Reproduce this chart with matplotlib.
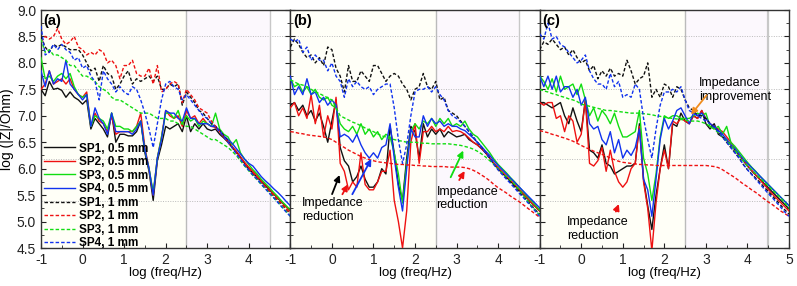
import numpy as np
import matplotlib
matplotlib.use("Agg")
import matplotlib.pyplot as plt
from matplotlib.ticker import MultipleLocator

plt.rcParams['font.family'] = ['Liberation Sans', 'DejaVu Sans']

# log(freq/Hz) sweep points
log_freq = np.round(np.arange(-1.0, 5.0001, 0.1), 2)

series_labels = ["SP1, 0.5 mm", "SP2, 0.5 mm", "SP3, 0.5 mm", "SP4, 0.5 mm",
                 "SP1, 1 mm", "SP2, 1 mm", "SP3, 1 mm", "SP4, 1 mm"]
panel_tags = ["(a)", "(b)", "(c)"]
x_ticks = [-1, 0, 1, 2, 3, 4, 5]
y_ticks = [4.5, 5.0, 5.5, 6.0, 6.5, 7.0, 7.5, 8.0, 8.5, 9.0]

# ---------------- panel (a) ----------------
a_sp1_05 = [7.5, 7.38, 7.65, 7.5, 7.52, 7.48, 7.35, 7.45, 7.35, 7.3,
            7.22, 7.3, 6.75, 6.95, 6.85, 6.75, 6.6, 7.05, 6.5, 6.65,
            6.65, 6.62, 6.62, 6.7, 6.9, 6.3, 5.95, 5.4, 6.15, 6.45,
            6.8, 6.75, 6.8, 6.85, 6.7, 7.0, 6.7, 6.85, 6.75, 6.85,
            6.75, 6.72, 6.75, 6.65, 6.58, 6.5, 6.4, 6.32, 6.22, 6.1,
            6.0, 5.92, 5.84, 5.76, 5.68, 5.6, 5.52, 5.44, 5.36, 5.28, 5.2]
a_sp2_05 = [7.5, 7.6, 7.85, 7.6, 7.65, 7.7, 7.6, 7.7, 7.5, 7.4,
            7.35, 7.45, 6.8, 7.05, 6.9, 6.85, 6.7, 7.0, 6.65, 6.7,
            6.7, 6.7, 6.7, 6.8, 7.05, 6.4, 6.0, 5.5, 6.2, 6.6,
            7.1, 7.0, 6.95, 7.0, 6.8, 7.1, 6.95, 7.0, 6.85, 6.95,
            6.85, 6.8, 6.78, 6.7, 6.6, 6.52, 6.42, 6.33, 6.22, 6.12,
            6.03, 5.95, 5.87, 5.78, 5.7, 5.62, 5.53, 5.45, 5.37, 5.28, 5.2]
a_sp3_05 = [8.1, 7.7, 7.75, 7.65, 7.75, 7.8, 7.7, 7.8, 7.55, 7.4,
            7.35, 7.4, 6.8, 7.0, 6.95, 6.9, 6.75, 7.05, 6.8, 6.8,
            6.75, 6.75, 6.7, 6.8, 6.9, 6.35, 6.0, 5.55, 6.2, 6.6,
            7.05, 7.05, 6.95, 7.1, 6.85, 7.0, 6.9, 6.95, 6.8, 6.9,
            6.85, 6.8, 7.05, 6.75, 6.65, 6.6, 6.45, 6.55, 6.3, 6.18,
            6.08, 5.98, 5.9, 5.8, 5.72, 5.64, 5.55, 5.47, 5.38, 5.3, 5.22]
a_sp4_05 = [7.85, 7.55, 7.85, 7.6, 7.7, 7.65, 8.05, 7.6, 7.5, 7.4,
            7.3, 7.4, 6.8, 7.15, 6.95, 6.85, 6.65, 7.05, 6.7, 6.7,
            6.7, 6.7, 6.65, 6.75, 6.9, 6.35, 6.0, 5.5, 6.2, 6.55,
            7.1, 7.05, 7.05, 6.95, 6.9, 7.15, 6.95, 6.95, 6.85, 6.85,
            6.85, 6.8, 6.8, 6.72, 6.62, 6.55, 6.48, 6.38, 6.28, 6.18,
            6.1, 6.05, 5.95, 5.85, 5.77, 5.7, 5.62, 5.55, 5.47, 5.38, 5.3]
a_sp1_1 = [8.5, 8.3, 8.2, 8.35, 8.3, 8.35, 8.3, 8.25, 8.25, 8.25,
           8.15, 8.0, 7.85, 7.9, 7.65, 7.95, 7.8, 7.75, 7.5, 7.6,
           7.75, 7.85, 7.6, 7.7, 7.65, 7.7, 7.75, 7.65, 7.75, 7.5,
           7.5, 7.6, 7.55, 7.6, 7.2, 7.45, 7.35, 7.25, 7.1, 7.05,
           6.95, 6.85, 6.8, 6.72, 6.62, 6.52, 6.4, 6.3, 6.2, 6.08,
           5.98, 5.9, 5.82, 5.74, 5.66, 5.57, 5.48, 5.4, 5.32, 5.23, 5.15]
a_sp2_1 = [8.4, 8.5, 8.45, 8.5, 8.65, 8.45, 8.35, 8.4, 8.5, 8.3,
           8.25, 8.15, 8.2, 8.15, 8.25, 8.2, 8.0, 8.05, 7.95, 7.7,
           7.95, 7.95, 8.05, 7.8, 7.75, 7.75, 7.9, 7.6, 7.95, 7.45,
           7.5, 7.6, 7.65, 7.6, 7.25, 7.5, 7.4, 7.3, 7.15, 7.1,
           7.05, 6.9, 6.8, 6.7, 6.6, 6.5, 6.4, 6.3, 6.2, 6.1,
           6.0, 5.92, 5.84, 5.75, 5.66, 5.58, 5.5, 5.41, 5.33, 5.24, 5.16]
a_sp3_1 = [8.45, 8.2, 8.25, 8.15, 8.15, 8.1, 8.05, 7.95, 7.95, 7.85,
           7.75, 7.75, 7.7, 7.65, 7.55, 7.5, 7.45, 7.35, 7.3, 7.3,
           7.25, 7.2, 7.15, 7.1, 7.05, 7.05, 7.05, 7.0, 6.95, 6.95,
           6.95, 6.9, 6.9, 6.85, 6.85, 6.8, 6.8, 6.75, 6.7, 6.65,
           6.6, 6.55, 6.55, 6.5, 6.45, 6.4, 6.33, 6.25, 6.15, 6.05,
           5.96, 5.87, 5.79, 5.7, 5.62, 5.54, 5.45, 5.37, 5.28, 5.19, 5.1]
a_sp4_1 = [8.7, 8.15, 8.2, 8.35, 8.25, 8.35, 8.25, 8.2, 8.05, 8.1,
           7.9, 7.95, 7.75, 7.65, 7.3, 7.85, 7.7, 7.6, 7.45, 7.55,
           7.45, 7.4, 7.55, 7.5, 7.3, 7.05, 6.75, 6.4, 6.85, 7.3,
           7.6, 7.65, 7.55, 7.5, 7.3, 7.4, 7.3, 7.2, 7.1, 7.0,
           6.95, 6.85, 6.78, 6.7, 6.6, 6.5, 6.4, 6.28, 6.18, 6.06,
           5.97, 5.88, 5.8, 5.71, 5.62, 5.53, 5.45, 5.36, 5.27, 5.18, 5.1]

# ---------------- panel (b) ----------------
b_sp1_05 = [7.2, 7.25, 7.1, 7.2, 7.0, 7.1, 6.9, 7.05, 6.8, 6.5,
            6.9, 7.3, 6.4, 6.15, 6.05, 5.75, 5.85, 6.05, 5.8, 5.65,
            5.65, 5.75, 6.0, 5.9, 6.8, 6.3, 5.7, 5.4, 6.2, 6.8,
            6.7, 6.2, 6.85, 6.6, 6.75, 6.65, 6.75, 6.6, 6.7, 6.65,
            6.6, 6.62, 6.65, 6.55, 6.5, 6.45, 6.38, 6.3, 6.2, 6.1,
            6.0, 5.92, 5.84, 5.76, 5.68, 5.6, 5.52, 5.44, 5.36, 5.28, 5.2]
b_sp2_05 = [7.15, 7.25, 7.0, 7.15, 6.95, 7.4, 6.85, 7.2, 6.6, 7.0,
            6.75, 7.35, 6.1, 5.95, 5.6, 5.75, 5.65, 6.3, 5.7, 5.6,
            5.6, 5.75, 5.95, 5.95, 6.35, 5.4, 5.0, 4.5, 5.2, 6.5,
            6.85, 6.1, 6.7, 6.7, 6.8, 6.7, 6.75, 6.7, 6.8, 6.7,
            6.72, 6.7, 6.65, 6.58, 6.5, 6.45, 6.38, 6.3, 6.2, 6.1,
            6.02, 5.94, 5.86, 5.78, 5.7, 5.62, 5.53, 5.45, 5.36, 5.28, 5.2]
b_sp3_05 = [7.7, 7.55, 7.6, 7.45, 7.55, 7.4, 7.5, 7.35, 7.3, 7.35,
            7.2, 7.15, 6.85, 6.75, 6.7, 6.8, 6.65, 6.85, 6.65, 6.75,
            6.6, 6.7, 6.55, 6.65, 6.6, 6.3, 5.9, 5.35, 6.1, 6.7,
            6.85, 6.75, 6.9, 6.85, 6.95, 6.8, 6.95, 6.85, 6.95, 6.8,
            6.85, 6.8, 6.9, 6.75, 6.65, 6.6, 6.5, 6.4, 6.3, 6.18,
            6.08, 6.0, 5.92, 5.83, 5.75, 5.66, 5.57, 5.48, 5.4, 5.31, 5.22]
b_sp4_05 = [7.75, 7.4, 7.55, 7.4, 7.7, 7.4, 7.45, 7.25, 7.35, 7.2,
            7.3, 7.2, 6.6, 6.65, 6.6, 6.5, 6.65, 6.45, 6.3, 6.2,
            6.3, 6.2, 6.4, 6.45, 6.85, 6.2, 5.65, 5.2, 6.0, 6.75,
            6.6, 6.6, 7.0, 6.8, 6.95, 6.85, 6.9, 6.8, 6.85, 6.8,
            6.8, 6.75, 6.72, 6.65, 6.58, 6.5, 6.42, 6.33, 6.25, 6.15,
            6.06, 5.98, 5.9, 5.82, 5.74, 5.66, 5.58, 5.5, 5.42, 5.34, 5.26]
b_sp1_1 = [8.3, 8.45, 8.35, 8.2, 8.1, 8.15, 8.0, 8.1, 7.95, 8.3,
           8.25, 7.9, 7.75, 7.45, 7.95, 7.65, 7.65, 7.85, 7.75, 7.65,
           7.95, 7.95, 7.8, 7.65, 7.75, 7.8, 7.75, 7.6, 7.5, 7.3,
           7.5, 7.55, 7.8, 7.55, 7.5, 7.65, 7.3, 7.35, 7.1, 7.05,
           7.0, 6.9, 6.8, 6.7, 6.6, 6.5, 6.4, 6.3, 6.2, 6.08,
           5.98, 5.9, 5.82, 5.74, 5.65, 5.57, 5.48, 5.4, 5.31, 5.22, 5.14]
b_sp2_1 = [6.7, 6.69, 6.67, 6.66, 6.64, 6.63, 6.62, 6.61, 6.6, 6.58,
           6.55, 6.5, 6.45, 6.4, 6.35, 6.31, 6.27, 6.23, 6.2, 6.17,
           6.15, 6.13, 6.12, 6.11, 6.1, 6.09, 6.08, 6.08, 6.07, 6.07,
           6.06, 6.06, 6.05, 6.05, 6.04, 6.04, 6.04, 6.04, 6.03, 6.03,
           6.03, 6.03, 6.02, 6.0, 5.97, 5.93, 5.88, 5.83, 5.77, 5.7,
           5.64, 5.59, 5.54, 5.48, 5.43, 5.38, 5.32, 5.26, 5.2, 5.14, 5.08]
b_sp3_1 = [7.68, 7.64, 7.6, 7.58, 7.55, 7.5, 7.45, 7.42, 7.38, 7.34,
           7.3, 7.15, 7.0, 6.96, 6.92, 6.88, 6.85, 6.81, 6.77, 6.73,
           6.7, 6.66, 6.62, 6.6, 6.57, 6.55, 6.53, 6.52, 6.5, 6.5,
           6.5, 6.49, 6.48, 6.48, 6.47, 6.47, 6.47, 6.47, 6.47, 6.46,
           6.45, 6.44, 6.42, 6.4, 6.37, 6.33, 6.28, 6.22, 6.15, 6.08,
           6.0, 5.92, 5.85, 5.78, 5.7, 5.6, 5.5, 5.4, 5.3, 5.21, 5.12]
b_sp4_1 = [8.45, 8.4, 8.45, 8.2, 8.3, 8.05, 8.15, 8.05, 8.05, 7.85,
           8.0, 7.75, 7.65, 7.35, 7.7, 7.55, 7.65, 7.55, 7.5, 7.55,
           7.4, 7.5, 7.55, 7.6, 7.6, 7.15, 6.55, 6.1, 6.45, 7.0,
           7.45, 7.5, 7.5, 7.55, 7.45, 7.55, 7.4, 7.3, 7.1, 7.0,
           6.95, 6.88, 6.8, 6.7, 6.6, 6.5, 6.4, 6.3, 6.2, 6.08,
           5.98, 5.89, 5.8, 5.72, 5.63, 5.54, 5.46, 5.37, 5.28, 5.19, 5.1]

# ---------------- panel (c) ----------------
c_sp1_05 = [7.25, 7.25, 7.2, 7.15, 7.2, 7.25, 7.0, 6.85, 7.15, 6.9,
            6.7, 7.3, 6.35, 6.3, 6.2, 6.45, 6.1, 6.05, 5.9, 5.95,
            6.0, 6.05, 6.05, 6.1, 6.85, 5.8, 5.3, 4.85, 5.5, 6.0,
            6.45, 6.0, 6.85, 6.8, 7.05, 6.9, 6.85, 7.0, 6.95, 7.1,
            6.85, 6.75, 6.85, 6.65, 6.6, 6.55, 6.45, 6.35, 6.25, 6.15,
            6.05, 5.96, 5.88, 5.8, 5.72, 5.64, 5.56, 5.48, 5.4, 5.32, 5.24]
c_sp2_05 = [7.25, 7.2, 7.25, 7.25, 6.95, 7.0, 6.7, 7.0, 6.9, 6.5,
            6.65, 7.3, 6.1, 6.05, 6.15, 6.4, 5.95, 6.35, 5.95, 5.75,
            5.65, 5.75, 6.0, 6.1, 6.8, 5.75, 5.25, 4.45, 5.35, 6.0,
            6.35, 6.0, 6.9, 6.85, 6.95, 6.9, 6.85, 7.0, 6.95, 7.1,
            6.95, 6.85, 6.8, 6.75, 6.7, 6.6, 6.5, 6.38, 6.27, 6.16,
            6.06, 5.97, 5.88, 5.79, 5.7, 5.61, 5.52, 5.44, 5.36, 5.28, 5.2]
c_sp3_05 = [7.75, 7.65, 7.5, 7.7, 7.45, 7.75, 7.5, 7.55, 7.6, 7.4,
            7.6, 7.3, 7.0, 7.15, 6.9, 7.1, 7.0, 6.85, 7.05, 6.8,
            6.6, 6.6, 6.65, 6.7, 7.1, 6.2, 5.9, 5.4, 5.9, 6.6,
            7.0, 6.95, 7.0, 7.0, 6.95, 6.95, 6.95, 7.0, 7.05, 7.0,
            7.05, 6.8, 6.75, 6.8, 6.65, 6.8, 6.5, 6.42, 6.32, 6.22,
            6.12, 6.03, 5.95, 5.86, 5.78, 5.7, 5.62, 5.54, 5.46, 5.38, 5.3]
c_sp4_05 = [7.75, 7.55, 7.75, 7.5, 7.75, 7.45, 7.55, 7.55, 7.35, 7.5,
            7.2, 7.35, 6.85, 6.75, 6.8, 6.55, 6.45, 6.7, 6.3, 6.55,
            6.2, 6.35, 6.25, 6.4, 6.75, 5.8, 5.6, 5.1, 5.8, 6.55,
            6.95, 6.75, 6.9, 7.1, 7.15, 7.0, 6.85, 7.05, 7.0, 7.05,
            6.95, 6.85, 6.8, 6.72, 6.65, 6.55, 6.45, 6.38, 6.28, 6.18,
            6.1, 6.02, 5.94, 5.86, 5.78, 5.7, 5.62, 5.54, 5.46, 5.38, 5.3]
c_sp1_1 = [8.25, 8.4, 8.35, 8.45, 8.35, 8.25, 8.3, 8.15, 8.25, 8.1,
           8.0, 8.05, 7.85, 7.95, 7.7, 7.85, 7.75, 7.9, 7.75, 7.8,
           7.75, 8.05, 7.85, 7.6, 7.7, 7.75, 8.0, 7.35, 7.5, 7.35,
           7.6, 7.55, 7.35, 7.55, 7.5, 7.3, 7.15, 7.1, 7.0, 7.0,
           6.95, 6.85, 6.78, 6.7, 6.6, 6.5, 6.4, 6.3, 6.2, 6.08,
           5.98, 5.9, 5.82, 5.74, 5.65, 5.57, 5.48, 5.4, 5.31, 5.22, 5.14]
c_sp2_1 = [6.72, 6.7, 6.68, 6.65, 6.63, 6.6, 6.58, 6.55, 6.52, 6.48,
           6.44, 6.4, 6.37, 6.33, 6.3, 6.27, 6.24, 6.2, 6.17, 6.14,
           6.12, 6.11, 6.1, 6.09, 6.08, 6.08, 6.07, 6.07, 6.06, 6.06,
           6.06, 6.06, 6.06, 6.06, 6.06, 6.06, 6.06, 6.06, 6.06, 6.06,
           6.06, 6.05, 6.04, 6.02, 5.98, 5.93, 5.88, 5.83, 5.77, 5.71,
           5.66, 5.6, 5.55, 5.49, 5.43, 5.37, 5.32, 5.26, 5.2, 5.15, 5.1]
c_sp3_1 = [7.5, 7.47, 7.45, 7.42, 7.4, 7.37, 7.35, 7.32, 7.3, 7.27,
           7.22, 7.2, 7.18, 7.16, 7.14, 7.12, 7.1, 7.1, 7.09, 7.08,
           7.07, 7.06, 7.05, 7.05, 7.05, 7.04, 7.03, 7.02, 7.0, 6.99,
           6.97, 6.96, 6.95, 6.94, 6.93, 6.92, 6.9, 6.9, 6.9, 6.88,
           6.85, 6.8, 6.75, 6.68, 6.6, 6.52, 6.45, 6.35, 6.25, 6.15,
           6.05, 5.98, 5.9, 5.82, 5.75, 5.67, 5.6, 5.52, 5.45, 5.35, 5.25]
c_sp4_1 = [8.55, 8.45, 8.75, 8.45, 8.5, 8.35, 8.3, 8.2, 8.1, 8.0,
           8.05, 8.15, 7.85, 7.7, 7.6, 7.6, 7.5, 7.8, 7.55, 7.65,
           7.35, 7.4, 7.35, 7.6, 7.5, 6.95, 6.55, 6.2, 6.75, 7.2,
           7.45, 7.45, 7.5, 7.45, 7.55, 7.3, 7.1, 7.05, 7.0, 6.95,
           6.9, 6.85, 6.78, 6.7, 6.6, 6.5, 6.4, 6.3, 6.2, 6.08,
           5.98, 5.89, 5.8, 5.71, 5.62, 5.53, 5.45, 5.36, 5.27, 5.18, 5.1]

panels = [
    [a_sp1_05, a_sp2_05, a_sp3_05, a_sp4_05, a_sp1_1, a_sp2_1, a_sp3_1, a_sp4_1],
    [b_sp1_05, b_sp2_05, b_sp3_05, b_sp4_05, b_sp1_1, b_sp2_1, b_sp3_1, b_sp4_1],
    [c_sp1_05, c_sp2_05, c_sp3_05, c_sp4_05, c_sp1_1, c_sp2_1, c_sp3_1, c_sp4_1],
]

colors = ['#111111', '#ee1111', '#11dd11', '#1133ee'] * 2
styles = ['-'] * 4 + [(0, (2.5, 1.5))] * 4

fig = plt.figure(figsize=(7.97, 2.86), dpi=100)
left, right = 41 / 797, 789 / 797
bottom, top = (286 - 248) / 286, (286 - 10) / 286
w = (right - left) / 3
axes = [fig.add_axes([left + i * w, bottom, w, top - bottom]) for i in range(3)]

for i, ax in enumerate(axes):
    ax.axvspan(-1, 2.5, color='#fffff7', zorder=0, lw=0)
    ax.axvspan(2.5, 4.5, color='#fcf8fd', zorder=0, lw=0)
    for yl in [8.5, 7.5, 6.18, 5.38]:
        ax.axhline(yl, color='#bbbbbb', lw=0.7, ls=(0, (1, 1.5)), zorder=1)
    ax.axvline(2.5, color='#bbbbbb', lw=1.0, zorder=1)
    ax.axvline(4.5, color='#c8c8c8', lw=1.6 if i == 2 else 1.0, zorder=1)
    for j, ys in enumerate(panels[i]):
        ax.plot(log_freq, ys, color=colors[j], ls=styles[j], lw=1.0,
                label=series_labels[j], zorder=3)
    ax.set_xlim(-1, 5)
    ax.set_ylim(4.5, 9.0)
    ax.set_xticks(x_ticks)
    ax.set_yticks(y_ticks)
    ax.xaxis.set_minor_locator(MultipleLocator(0.5))
    ax.yaxis.set_minor_locator(MultipleLocator(0.25))
    ax.tick_params(axis='both', which='both', direction='in', right=True,
                   top=False, labelsize=10, colors='#222222')
    ax.tick_params(which='major', length=3.5)
    ax.tick_params(which='minor', length=2)
    if i < 2:
        ax.set_xticklabels(['-1', '0', '1', '2', '3', '4', ''])
    else:
        ax.set_xticklabels(['-1', '0', '1', '2', '3', '4', '5'])
    if i == 0:
        ax.set_yticklabels([f"{v:.1f}" for v in y_ticks])
        ax.set_ylabel("log (|Z|/Ohm)", fontsize=10, labelpad=2)
    else:
        ax.set_yticklabels([])
    ax.set_xlabel("log (freq/Hz)", fontsize=9.5, labelpad=0)
    for sp in ax.spines.values():
        sp.set_color('#333333')
        sp.set_linewidth(1.0)
    ax.text(0.01, 0.985, panel_tags[i], transform=ax.transAxes, fontsize=10.5,
            fontweight='bold', va='top', ha='left', zorder=5)

leg = axes[0].legend(loc='lower left', bbox_to_anchor=(-0.02, -0.04), frameon=False,
                     prop={'weight': 'bold', 'size': 8.5}, handlelength=2.6,
                     labelspacing=0.13, handletextpad=0.35, borderpad=0.2)

# annotations
ax_b, ax_c = axes[1], axes[2]
arrow_kw = dict(arrowstyle='-|>', lw=1.3, mutation_scale=9)
ax_b.text(-0.72, 5.22, "Impedance\nreduction", fontsize=9, va='center', ha='left',
          linespacing=1.15, zorder=6)
ax_b.annotate("", xy=(0.21, 5.93), xytext=(-0.02, 5.47),
              arrowprops=dict(color='black', **arrow_kw), zorder=6)
ax_b.annotate("", xy=(0.42, 5.75), xytext=(0.22, 5.47),
              arrowprops=dict(color='#ee1111', **arrow_kw), zorder=6)
ax_b.annotate("", xy=(0.98, 6.23), xytext=(0.46, 5.47),
              arrowprops=dict(color='#1133ee', **arrow_kw), zorder=6)
ax_b.text(2.52, 5.44, "Impedance\nreduction", fontsize=9, va='center', ha='left',
          linespacing=1.15, zorder=6)
ax_b.annotate("", xy=(3.19, 6.39), xytext=(2.83, 5.79),
              arrowprops=dict(color='#11dd11', **arrow_kw), zorder=6)
ax_b.annotate("", xy=(3.23, 6.0), xytext=(3.03, 5.74),
              arrowprops=dict(color='#ee1111', **arrow_kw), zorder=6)

ax_c.text(-0.35, 4.86, "Impedance\nreduction", fontsize=9, va='center', ha='left',
          linespacing=1.15, zorder=6)
ax_c.annotate("", xy=(0.93, 5.38), xytext=(0.81, 5.14),
              arrowprops=dict(color='#ee1111', **arrow_kw), zorder=6)
ax_c.text(2.83, 7.49, "Impedance\nimprovement", fontsize=9, va='center', ha='left',
          linespacing=1.15, zorder=6)
ax_c.annotate("", xy=(2.6, 6.98), xytext=(3.06, 7.43),
              arrowprops=dict(color='#f08c1e', **arrow_kw), zorder=6)

fig.savefig("out.png", dpi=100)
